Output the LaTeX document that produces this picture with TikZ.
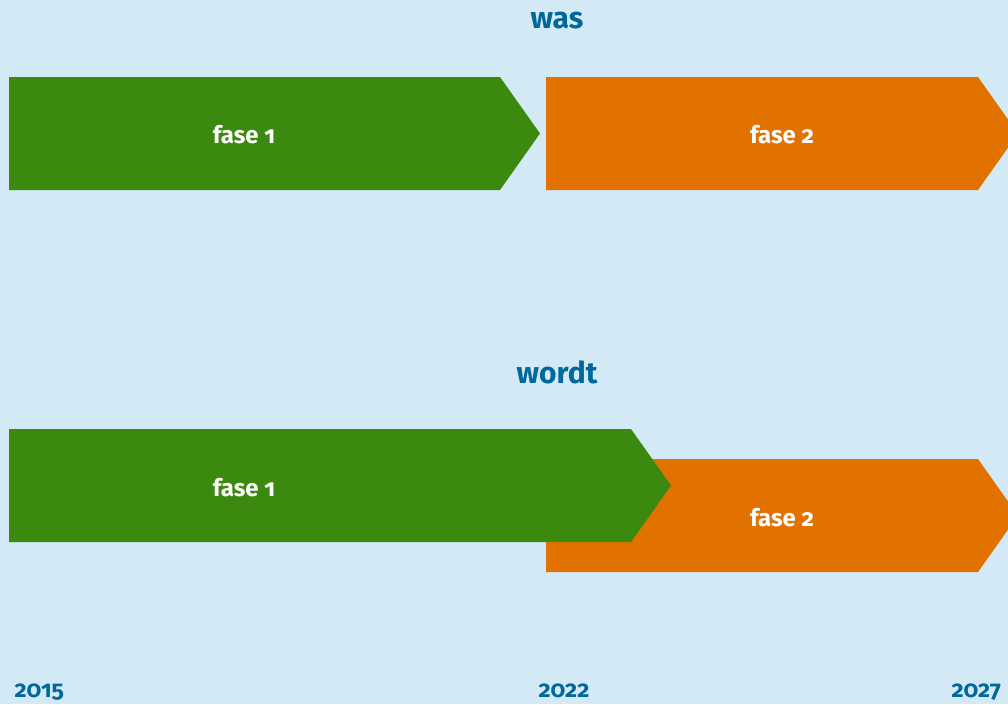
\documentclass[tikz,border=0pt]{standalone}
\usepackage{fontspec}
\setmainfont{Fira Sans}[Numbers=OldStyle]
\definecolor{bgblue}{HTML}{D3EAF6}
\definecolor{phgreen}{HTML}{3B890E}
\definecolor{phorange}{HTML}{E27200}
\definecolor{txtblue}{HTML}{01689B}
\begin{document}
\begin{tikzpicture}[x=1pt,y=-1pt,
  heading/.style={text=txtblue,font=\fontsize{30}{34}\selectfont\bfseries},
  phaselabel/.style={text=white,font=\fontsize{24}{28}\selectfont\bfseries},
  yearlabel/.style={text=txtblue,font=\fontsize{23.5}{26}\selectfont\bfseries,anchor=base west}]
\useasboundingbox (0,0) rectangle (1008,704);
\fill[bgblue] (0,0) rectangle (1008,704);
\begin{scope}
\clip (0,0) rectangle (1008,704);
% top row
\fill[phgreen] (9,77) -- (500,77) -- (540,133.5) -- (500,190) -- (9,190) -- cycle;
\fill[phorange] (546,77) -- (978,77) -- (1018,133.5) -- (978,190) -- (546,190) -- cycle;
% bottom row
\fill[phorange] (546,459) -- (978,459) -- (1018,515.5) -- (978,572) -- (546,572) -- cycle;
\fill[phgreen] (9,429) -- (631,429) -- (671,485.5) -- (631,542) -- (9,542) -- cycle;
\end{scope}
\node[heading] (was) at (557,21) {was};
\node[heading] (wordt) at (557,372) {wordt};
\node[phaselabel] (f1a) at (244,134.5) {fase 1};
\node[phaselabel] (f2a) at (782,134.5) {fase 2};
\node[phaselabel] (f1b) at (244,487.5) {fase 1};
\node[phaselabel] (f2b) at (782,517.5) {fase 2};
\node[yearlabel] (y1) at (11,697) {2015};
\node[yearlabel] (y2) at (535,697) {2022};
\node[yearlabel] (y3) at (948,697) {2027};
\end{tikzpicture}
\end{document}
